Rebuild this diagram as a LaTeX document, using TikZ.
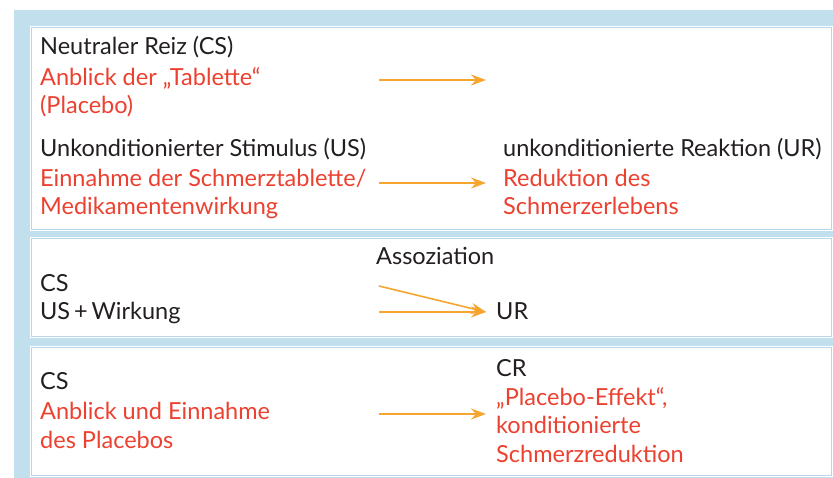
\documentclass[tikz,border=0pt]{standalone}
\usepackage{fontspec}
\setmainfont{Lato}
\usetikzlibrary{arrows.meta}

\definecolor{bgblue}{HTML}{C2DFED}
\definecolor{panelline}{HTML}{B5D7E9}
\definecolor{txtblack}{HTML}{231F20}
\definecolor{txtred}{HTML}{EC4130}
\definecolor{arroworange}{HTML}{F6A52F}

\begin{document}
\begin{tikzpicture}
    [
        x=1pt, y=-1pt,
        panel/.style={draw=panelline, line width=1pt},
        black text/.style={anchor=base west, inner sep=0pt, align=left, text=txtblack, font=\fontsize{23.5}{28.5}\selectfont},
        red text/.style={black text, text=txtred},
        reiz arrow/.style={draw=arroworange, line width=1.6pt, -{Stealth[length=15pt, width=11pt, inset=5pt]}}
    ]

    \useasboundingbox (0,0) rectangle (833,478);
    \fill [bgblue] (14,10) rectangle (833,478);

    % panels
    \fill [white] (30,26) rectangle (833,231);
    \draw [panel] (31.5,27.5) rectangle (831.5,229.5);
    \fill [white] (30,237) rectangle (833,338);
    \draw [panel] (31.5,238.5) rectangle (831.5,336.5);
    \fill [white] (30,346) rectangle (833,477);
    \draw [panel] (31.5,347.5) rectangle (831.5,475.5);

    % first panel (multi-line nodes sit on the baseline of their last line)
    \node [black text] (cs) at (40, 55) {Neutraler Reiz (CS)};
    \node [red text] (csred) at (40, 114) {Anblick der „Tablette“\\(Placebo)};
    \node [black text] (us) at (40, 157) {Unkonditionierter Stimulus (US)};
    \node [red text] (usred) at (40, 215) {Einnahme der Schmerztablette/\\Medikamentenwirkung};
    \node [black text] (ur) at (503, 157) {unkonditionierte Reaktion (UR)};
    \node [red text] (urred) at (503, 215) {Reduktion des\\Schmerzerlebens};

    \coordinate (a1s) at (379, 80);
    \coordinate (a1e) at (486, 80);
    \coordinate (a2s) at (379, 183);
    \coordinate (a2e) at (486, 183);
    \draw [reiz arrow] (a1s) -- (a1e);
    \draw [reiz arrow] (a2s) -- (a2e);

    % second panel
    \node [black text] (assoz) at (376, 265) {Assoziation};
    \node [black text] (cs2) at (40, 320) {CS\\US\,+\,Wirkung};
    \node [black text] (ur2) at (496, 320) {UR};

    \coordinate (a3s) at (379, 286);
    \coordinate (a4s) at (379, 312);
    \coordinate (a4e) at (486, 312);
    \draw [reiz arrow] (a3s) -- (a4e);
    \draw [reiz arrow] (a4s) -- (a4e);

    % third panel
    \node [black text] (cs3) at (40, 389) {CS};
    \node [red text] (cs3red) at (40, 448) {Anblick und Einnahme\\des Placebos};
    \node [black text] (cr) at (496, 377) {CR};
    \node [red text] (crred) at (496, 462) {„Placebo-Effekt“,\\konditionierte\\Schmerzreduktion};

    \coordinate (a5s) at (379, 414);
    \coordinate (a5e) at (486, 414);
    \draw [reiz arrow] (a5s) -- (a5e);
\end{tikzpicture}
\end{document}
